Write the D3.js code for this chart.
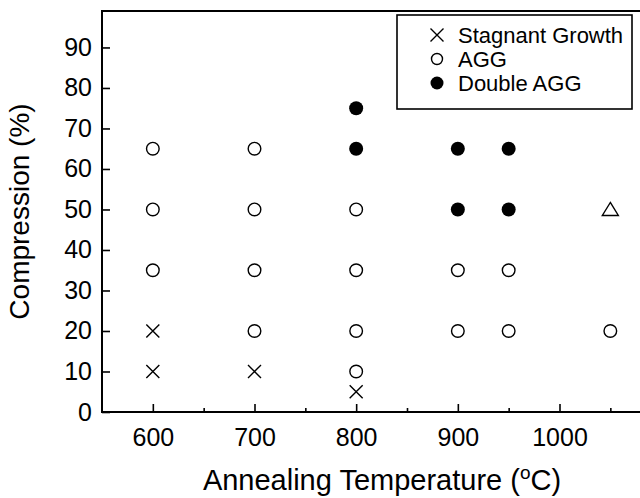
<!DOCTYPE html>
<html>
<head>
<meta charset="utf-8">
<script src="https://cdn.jsdelivr.net/npm/d3@7"></script>
<style>
  body { margin: 0; background: #fff; }
  svg { display: block; font-family: "Liberation Sans", Arial, sans-serif; }
</style>
</head>
<body>
<div id="chart"></div>
<script>
// data
var stagnantTemp = [600, 600, 700, 800];
var stagnantComp = [20, 10, 10, 5];

var aggTemp = [600, 600, 600, 700, 700, 700, 700, 800, 800, 800, 800, 900, 900, 950, 950, 1050];
var aggComp = [65, 50, 35, 65, 50, 35, 20, 50, 35, 20, 10, 35, 20, 35, 20, 20];

var doubleTemp = [800, 800, 900, 900, 950, 950];
var doubleComp = [75, 65, 65, 50, 65, 50];

var triangleTemp = [1050];
var triangleComp = [50];

var xTicks = [600, 700, 800, 900, 1000];
var xMinorTicks = [650, 750, 850, 950, 1050];
var yTicks = [0, 10, 20, 30, 40, 50, 60, 70, 80, 90];

var legendLabels = ["Stagnant Growth", "AGG", "Double AGG"];

var width = 640, height = 498;
var plot = { left: 102, right: 712, top: 11, bottom: 412 };

var svg = d3.select("#chart")
  .append("svg")
  .attr("width", width)
  .attr("height", height);

var x = d3.scaleLinear().domain([550, 1150]).range([plot.left, plot.right]);
var y = d3.scaleLinear().domain([0, 99]).range([plot.bottom, plot.top]);

// frame (right side runs past the picture edge)
svg.append("rect")
  .attr("x", plot.left)
  .attr("y", plot.top)
  .attr("width", plot.right - plot.left)
  .attr("height", plot.bottom - plot.top)
  .attr("fill", "none")
  .attr("stroke", "#000")
  .attr("stroke-width", 2);

// x axis, ticks pointing into the plot
svg.append("g")
  .attr("transform", `translate(0,${plot.bottom})`)
  .call(d3.axisBottom(x).tickValues(xTicks).tickFormat(d3.format("d"))
    .tickSizeInner(-8).tickSizeOuter(0).tickPadding(16));

svg.append("g")
  .attr("transform", `translate(0,${plot.bottom})`)
  .call(d3.axisBottom(x).tickValues(xMinorTicks).tickSizeInner(-4).tickSizeOuter(0).tickFormat(""));

svg.append("g")
  .attr("transform", `translate(${plot.left},0)`)
  .call(d3.axisLeft(y).tickValues(yTicks).tickSizeInner(-8).tickSizeOuter(0).tickPadding(10));

svg.selectAll(".domain").remove();
svg.selectAll(".tick line").attr("stroke", "#000").attr("stroke-width", 1.6);
svg.selectAll(".tick text")
  .attr("fill", "#000")
  .style("font-size", "25px")
  .style("font-family", "'Liberation Sans', Arial, sans-serif");

// axis titles
svg.append("text")
  .attr("x", 382)
  .attr("y", 490)
  .attr("text-anchor", "middle")
  .style("font-size", "29px")
  .html('Annealing Temperature (<tspan dy="-11" font-size="19">o</tspan><tspan dy="11">C)</tspan>');

svg.append("text")
  .attr("transform", `translate(29,${(plot.top + plot.bottom) / 2}) rotate(-90)`)
  .attr("text-anchor", "middle")
  .style("font-size", "28px")
  .text("Compression (%)");

// marks
var g = svg.append("g");

var crossSize = 6.5;
function drawCross(sel, cx, cy) {
  sel.append("path")
    .attr("d", `M${cx - crossSize},${cy - crossSize}L${cx + crossSize},${cy + crossSize}M${cx - crossSize},${cy + crossSize}L${cx + crossSize},${cy - crossSize}`)
    .attr("stroke", "#000")
    .attr("stroke-width", 1.4)
    .attr("fill", "none");
}

stagnantTemp.forEach(function (t, i) {
  drawCross(g, x(t), y(stagnantComp[i]));
});

g.selectAll(".agg")
  .data(aggTemp.map((t, i) => ({ t: t, c: aggComp[i] })))
  .enter()
  .append("circle")
  .attr("class", "agg")
  .attr("cx", d => x(d.t))
  .attr("cy", d => y(d.c))
  .attr("r", 6.3)
  .attr("fill", "#fff")
  .attr("stroke", "#000")
  .attr("stroke-width", 1.4);

g.selectAll(".double")
  .data(doubleTemp.map((t, i) => ({ t: t, c: doubleComp[i] })))
  .enter()
  .append("circle")
  .attr("class", "double")
  .attr("cx", d => x(d.t))
  .attr("cy", d => y(d.c))
  .attr("r", 7)
  .attr("fill", "#000");

g.selectAll(".tri")
  .data(triangleTemp.map((t, i) => ({ t: t, c: triangleComp[i] })))
  .enter()
  .append("path")
  .attr("class", "tri")
  .attr("d", d => {
    var cx = x(d.t), cy = y(d.c);
    return `M${cx},${cy - 7}L${cx + 8},${cy + 6}L${cx - 8},${cy + 6}Z`;
  })
  .attr("fill", "#fff")
  .attr("stroke", "#000")
  .attr("stroke-width", 1.4);

// legend
var legend = svg.append("g");
legend.append("rect")
  .attr("x", 397)
  .attr("y", 15)
  .attr("width", 235)
  .attr("height", 94)
  .attr("fill", "#fff")
  .attr("stroke", "#000")
  .attr("stroke-width", 1.6);

var rowY = [35, 59, 83];
drawCross(legend, 437, rowY[0]);
legend.append("circle").attr("cx", 437).attr("cy", rowY[1]).attr("r", 5.5)
  .attr("fill", "#fff").attr("stroke", "#000").attr("stroke-width", 1.4);
legend.append("circle").attr("cx", 437).attr("cy", rowY[2]).attr("r", 6.5)
  .attr("fill", "#000");

legend.selectAll(".leg-text")
  .data(legendLabels)
  .enter()
  .append("text")
  .attr("class", "leg-text")
  .attr("x", 458)
  .attr("y", (d, i) => rowY[i] + 8)
  .style("font-size", "22px")
  .text(d => d);
</script>
</body>
</html>
